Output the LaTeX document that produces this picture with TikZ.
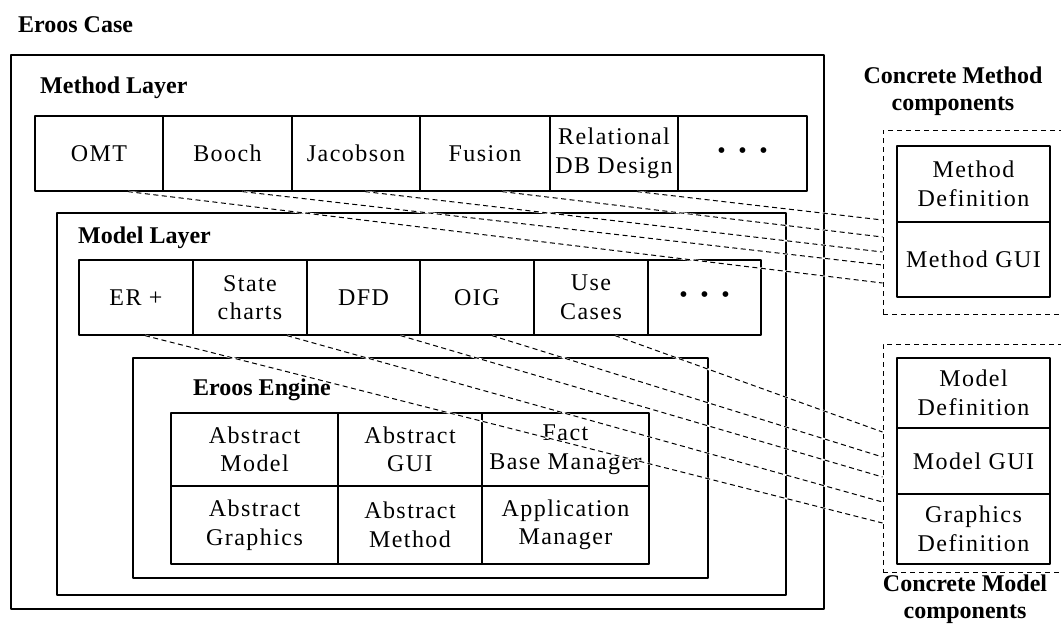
\documentclass[tikz,border=0pt]{standalone}
\usepackage{fontspec}
\setmainfont{Liberation Serif}
\newfontfamily\cellfont[LetterSpace=6]{Liberation Serif}
\newcommand\threedots{\textbullet\hspace{12.6pt}\textbullet\hspace{12.6pt}\textbullet}
\begin{document}
\begin{tikzpicture}[x=1pt, y=-1pt, line join=round,
		cell/.style={draw, line width=1.2pt, inner sep=0pt, align=center, font=\cellfont\fontsize{24}{28.5}\selectfont},
		head/.style={inner sep=0pt, anchor=west, align=center, font=\fontsize{24}{27}\selectfont\bfseries},
		frame/.style={draw, line width=1.2pt},
		group/.style={draw, line width=1pt, dash pattern=on 5pt off 4pt, inner sep=0pt},
		link/.style={line width=1pt, dash pattern=on 5pt off 3.5pt, preaction={draw=white, solid, line width=1.8pt}}]
	\useasboundingbox (0,0) rectangle (1061,630);
	\draw[frame] (11,55) rectangle (824,609);
	\draw[frame] (57,213) rectangle (786,595);
	\draw[frame] (133,358) rectangle (708,578);
	\node[head] (case) at (18,25) {Eroos Case};
	\node[head] (methodlayer) at (40,88) {Method Layer};
	\node[head] (modellayer) at (78,238) {Model Layer};
	\node[head] (engine) at (193,390) {Eroos Engine};
	\node[head, anchor=center] (mtitle) at (953,91) {Concrete Method\\components};
	\node[head, anchor=center] (dtitle) at (965,599) {Concrete Model\\components};
	\foreach \n/\t/\a/\b in {omt/OMT/35/163, booch/Booch/163/292, jacobson/Jacobson/292/420, fusion/Fusion/420/550, rdb/{Relational\\DB Design}/550/678, mdots/\threedots/678/807}
		\node[cell, minimum width=\b-\a, minimum height=75] (\n) at ({(\a+\b)/2},153.5) {\t};
	\foreach \n/\t/\a/\b in {er/ER +/79/193, charts/{State\\charts}/193/307, dfd/DFD/307/420, oig/OIG/420/534, usecases/{Use\\Cases}/534/648, ddots/\threedots/648/761}
		\node[cell, minimum width=\b-\a, minimum height=75] (\n) at ({(\a+\b)/2},297.5) {\t};
	\foreach \n/\t/\a/\b in {amodel/{Abstract\\Model}/171/338, agui/{Abstract\\GUI}/338/482, fbm/{Fact\\Base Manager}/482/649}
		\node[cell, minimum width=\b-\a, minimum height=73] (\n) at ({(\a+\b)/2},449.5) {\t};
	\foreach \n/\t/\a/\b in {agraph/{Abstract\\Graphics}/171/338, amethod/{Abstract\\Method}/338/482, appman/{Application\\Manager}/482/649}
		\node[cell, minimum width=\b-\a, minimum height=78] (\n) at ({(\a+\b)/2},525) {\t};
	\node[group, minimum width=183, minimum height=184] (mgroup) at (974.5,222) {};
	\node[group, minimum width=183, minimum height=228] (dgroup) at (974.5,458) {};
	\foreach \n/\t/\y/\h in {mdef/{Method\\Definition}/184/76, mgui/Method GUI/259.5/75, ddef/{Model\\Definition}/393/70, dgui/Model GUI/461/66, gdef/{Graphics\\Definition}/529/70}
		\node[cell, minimum width=153, minimum height=\h] (\n) at (973.5,\y) {\t};
	\foreach \s/\dx/\dy in {omt/29/-61, booch/15/-43, jacobson/9/-30, fusion/17/-15, rdb/23/2}
		\draw[link] ([xshift=\dx pt]\s.south) -- ([yshift=\dy pt]mgroup.west);
	\foreach \s/\dx/\dy in {er/9/-65, charts/37/-44, dfd/37/-19, oig/15/1, usecases/24/26}
		\draw[link] ([xshift=\dx pt]\s.south) -- ([yshift=\dy pt]dgroup.west);
\end{tikzpicture}
\end{document}
